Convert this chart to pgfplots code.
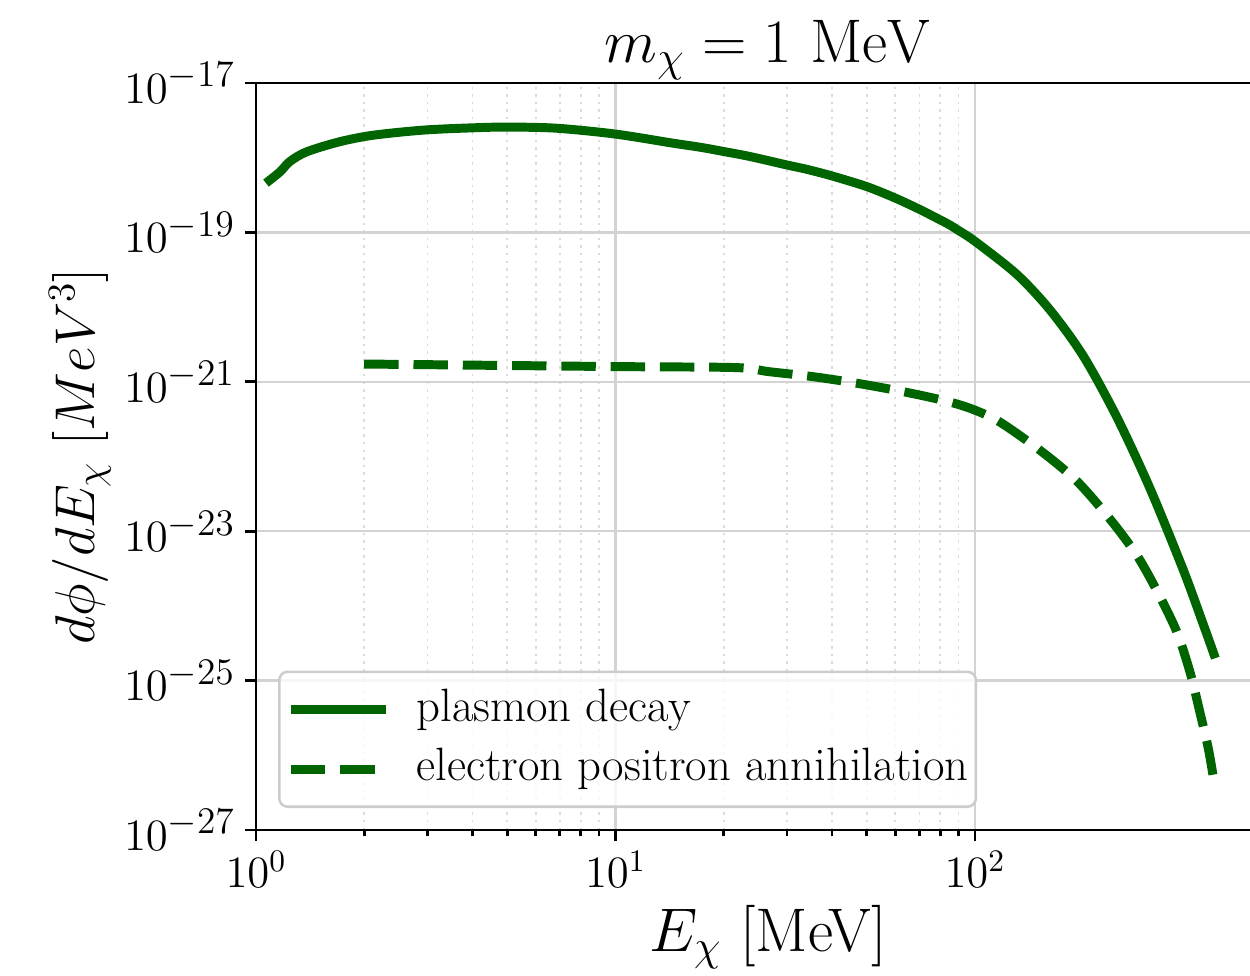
\RequirePackage{fix-cm}
\documentclass[border=0pt]{standalone}
\usepackage{pgfplots}
\pgfplotsset{compat=1.18}
\definecolor{dgreen}{HTML}{006400}
\definecolor{gridmaj}{HTML}{D3D3D3}
\definecolor{gridmin}{HTML}{DCDCDC}
\definecolor{legframe}{HTML}{CCCCCC}
\newcommand{\sexp}[1]{10^{\mbox{\fontsize{13.4}{14}\selectfont$#1$}}}
\begin{document}
\begin{tikzpicture}
\begin{axis}[
  at={(0,0)}, anchor=south west,
  scale only axis,
  width=365.7pt, height=266.8pt,
  xmode=log, ymode=log,
  xmin=1, xmax=705, ymin=1e-27, ymax=1e-17,
  ytick={1e-27,1e-25,1e-23,1e-21,1e-19,1e-17},
  yticklabels={$\sexp{-27}$,$\sexp{-25}$,$\sexp{-23}$,$\sexp{-21}$,$\sexp{-19}$,$\sexp{-17}$},
  xtick={1,10,100},
  yminorticks=false, xminorticks=true,
  xmajorgrids, ymajorgrids, xminorgrids,
  major grid style={gridmaj, line width=0.9pt},
  minor grid style={gridmin, line width=0.6pt, dash pattern=on 0.9pt off 1.8pt},
  axis line style={line width=1pt},
  tick style={line width=1pt, black},
  major tick length=3.9pt, minor tick length=2.3pt,
  tick align=outside, tick pos=left,
  tick label style={font=\fontsize{16}{19}\selectfont},
  every axis title shift=0pt,
  title={$m_\chi = 1\ \mathrm{MeV}$},
  title style={at={(axis description cs:0.5,1.028)}, anchor=base, font=\fontsize{22}{26}\selectfont, inner sep=0pt},
  xlabel={$E_\chi$ [MeV]},
  xlabel style={at={(axis description cs:0.5,-0.143)}, anchor=center, font=\fontsize{22}{26}\selectfont},
  ylabel={$d\phi/dE_\chi\ [MeV^3]$},
  ylabel style={at={(axis description cs:-0.172,0.5)}, anchor=center, font=\fontsize{20}{24}\selectfont},
  legend cell align=left,
  legend style={at={(axis description cs:0.0215,0.0295)}, anchor=south west,
    draw=legframe, line width=0.9pt, rounded corners=3pt,
    fill=white, fill opacity=0.8, text opacity=1,
    font=\fontsize{16.7}{20}\selectfont,
    inner xsep=2.6pt, inner ysep=6pt, row sep=6.6pt,
    nodes={inner sep=0pt, text height=11.6pt, text depth=3.2pt}},
  /tikz/every odd column/.append style={column sep=9.2pt},
  /tikz/every even column/.append style={nodes={inner xsep=0pt}},
  legend image code/.code={\draw[#1, rounded corners=0pt] (0pt,0pt) -- (34pt,0pt);},
]
\addplot[dgreen, line width=3.2pt, line cap=butt, line join=round, smooth, tension=0.5] coordinates {
(1.066,4.57e-19) (1.166,6.46e-19) (1.243,8.91e-19) (1.384,1.20e-18)
(1.713,1.64e-18) (2.12,2.00e-18) (2.92,2.34e-18) (4.0,2.51e-18)
(5.0,2.57e-18) (6.86,2.48e-18) (10,2.07e-18) (14.5,1.56e-18)
(17.2,1.38e-18) (20,1.21e-18) (23.7,1.035e-18) (30,7.98e-19)
(34,7.00e-19) (40,5.70e-19) (50,4.10e-19) (60,2.88e-19)
(70,2.04e-19) (80,1.47e-19) (85,1.26e-19) (90,1.06e-19)
(100,7.59e-20) (130.6,2.75e-20) (161.7,9.14e-21) (200,2.22e-21)
(247.8,3.39e-22) (306.8,3.72e-23) (379.7,3.02e-24) (431.6,5.62e-25)
(466,2.00e-25)
};
\addlegendentry{plasmon decay}
\addplot[dgreen, line width=3.2pt, line cap=butt, line join=round, smooth, tension=0.5, dash pattern=on 12.3pt off 5.3pt] coordinates {
(2.0,1.73e-21) (9.88,1.60e-21) (21.6,1.55e-21) (26.6,1.37e-21)
(35.5,1.17e-21) (48.4,9.33e-22) (65.9,7.08e-22) (85,5.37e-22)
(100,4.17e-22) (117.4,2.88e-22) (152,1.20e-22) (192,4.68e-23)
(237.4,1.45e-23) (281.7,4.79e-24) (320,1.62e-24) (363.6,4.57e-25)
(396.4,1.29e-25) (422.4,3.72e-26) (445.6,1.23e-26) (462.4,4.37e-27)
};
\addlegendentry{electron positron annihilation}
\end{axis}
\pgfresetboundingbox
\path[use as bounding box] (-91.43pt,-51.79pt) rectangle (355.0pt,296.43pt);
\end{tikzpicture}
\end{document}
